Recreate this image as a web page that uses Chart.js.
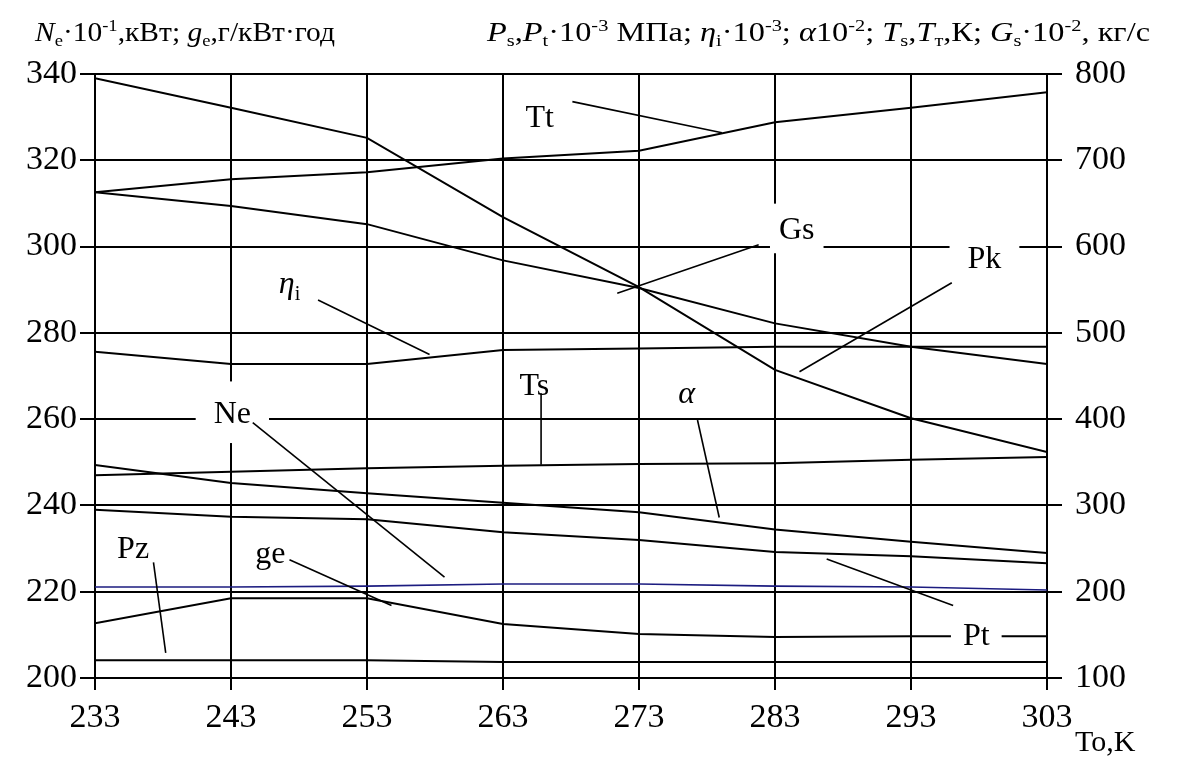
<!DOCTYPE html>
<html>
<head>
<meta charset="utf-8">
<script src="https://cdn.jsdelivr.net/npm/chart.js@4.4.0/dist/chart.umd.min.js"></script>
<style>
  html, body { margin: 0; padding: 0; background: #fff; }
  #wrap { width: 1187px; height: 763px; position: relative; }
</style>
</head>
<body>
<div id="wrap"><canvas id="chart"></canvas></div>
<script>
// To, K
const To = [233, 243, 253, 263, 273, 283, 293, 303];

// left axis (Ne*10^-1 kW, ge g/kWh)
const Ne = [221.1, 221.1, 221.3, 221.8, 221.8, 221.3, 221.1, 220.4];
const ge = [212.7, 218.5, 218.5, 212.5, 210.2, 209.5, 209.7, 209.7];

// right axis
const Tt = [663, 678, 686, 702, 711, 744, 761, 779];
const Pk = [795, 761, 726, 634, 553, 457, 401, 362];
const Gs = [663, 647, 626, 584, 552, 511, 484, 464];
const etaI = [478, 464, 464, 480, 482, 484, 484, 484];
const Ts = [335, 339, 343, 346, 348, 349, 353, 356];
const alpha = [347, 326, 314, 303, 292, 272, 258, 245];
const Pt = [295, 287, 284, 269, 260, 246, 241, 233];
const Pz = [120.5, 120.5, 120.5, 118.5, 118.5, 118.5, 118.5, 118.5];

const xTicks = [233, 243, 253, 263, 273, 283, 293, 303];
const leftTicks = [200, 220, 240, 260, 280, 300, 320, 340];
const rightTicks = [100, 200, 300, 400, 500, 600, 700, 800];

const serif = "'Liberation Serif', 'Times New Roman', serif";

// rich text helpers
const R = t => ({ t });
const I = t => ({ t, it: true });
const S = t => ({ t, pos: 'sub' });
const U = t => ({ t, pos: 'sup' });

function runFont(r, size) {
    const fs = r.pos ? Math.round(size * 0.62) : size;
    return (r.it ? 'italic ' : '') + fs + 'px ' + serif;
}

function richWidth(ctx, runs, size) {
    let w = 0;
    runs.forEach(r => { ctx.font = runFont(r, size); w += ctx.measureText(r.t).width; });
    return w;
}

function drawRich(ctx, runs, x, y, size) {
    let cx = x;
    runs.forEach(r => {
        ctx.font = runFont(r, size);
        const dy = r.pos === 'sub' ? size * 0.2 : r.pos === 'sup' ? -size * 0.38 : 0;
        ctx.fillText(r.t, cx, y + dy);
        cx += ctx.measureText(r.t).width;
    });
}

const leftTitle = [I('N'), S('e'), R('·10'), U('-1'), R(',кВт; '), I('g'), S('e'), R(',г/кВт·год')];
const rightTitle = [I('P'), S('s'), R(','), I('P'), S('t'), R('·10'), U('-3'), R(' МПа; '), I('η'), S('i'),
    R('·10'), U('-3'), R('; '), I('α'), R('10'), U('-2'), R('; '), I('T'), S('s'), R(','), I('T'), S('т'),
    R(',К; '), I('G'), S('s'), R('·10'), U('-2'), R(', кг/с')];

// curve labels, placed in To / right-axis units
const notes = [
    { text: [R('Tt')], at: [265.7, 751], lead: [[268.1, 768], [279.1, 732]] },
    { text: [R('Gs')], at: [284.6, 621], lead: [[281.8, 602], [271.4, 546]], pad: [9, 12] },
    { text: [R('Pk')], at: [298.4, 587], lead: [[296.0, 558], [284.8, 455]], pad: [18, 5] },
    { text: [I('η'), S('i')], at: [247.3, 558], lead: [[249.4, 538], [257.6, 475]] },
    { text: [R('Ts')], at: [265.3, 440], lead: [[265.8, 430], [265.8, 347]] },
    { text: [I('α')], at: [276.5, 431], lead: [[277.3, 399], [278.9, 286]] },
    { text: [R('Ne')], at: [243.1, 408], lead: [[244.6, 396], [258.7, 217]], pad: [18, 18] },
    { text: [R('Pz')], at: [235.8, 251], lead: [[237.3, 234], [238.2, 129]] },
    { text: [R('ge')], at: [245.9, 246], lead: [[247.3, 237], [254.8, 184]] },
    { text: [R('Pt')], at: [297.8, 150], lead: [[286.8, 238], [296.1, 184]], pad: [12, 4] }
];

const decor = {
    id: 'decor',
    afterDatasetsDraw(chart) {
        const ctx = chart.ctx;
        const xs = chart.scales.x, ys = chart.scales.y2;
        const size = 32;
        ctx.save();
        ctx.textBaseline = 'alphabetic';
        ctx.fillStyle = '#000';

        const boxes = notes.map(n => {
            const w = richWidth(ctx, n.text, size);
            const cx = xs.getPixelForValue(n.at[0]);
            const cy = ys.getPixelForValue(n.at[1]);
            return { n, w, cx, cy };
        });
        // white backgrounds
        boxes.forEach(b => {
            const p = b.n.pad || [2, 2];
            ctx.fillStyle = '#fff';
            ctx.fillRect(b.cx - b.w / 2 - p[0], b.cy - size * 0.4 - p[1], b.w + 2 * p[0], size * 0.8 + 2 * p[1]);
        });
        // leader lines
        ctx.strokeStyle = '#000';
        ctx.lineWidth = 1.6;
        boxes.forEach(b => {
            const l = b.n.lead;
            ctx.beginPath();
            ctx.moveTo(xs.getPixelForValue(l[0][0]), ys.getPixelForValue(l[0][1]));
            ctx.lineTo(xs.getPixelForValue(l[1][0]), ys.getPixelForValue(l[1][1]));
            ctx.stroke();
        });
        // texts
        ctx.fillStyle = '#000';
        boxes.forEach(b => drawRich(ctx, b.n.text, b.cx - b.w / 2, b.cy + size * 0.33, size));

        // axis titles on top, fitted to their spans
        const fit = (runs, x0, x1, base, fs) => {
            const w = richWidth(ctx, runs, fs);
            ctx.save();
            ctx.translate(x0, base);
            ctx.scale((x1 - x0) / w, 1);
            drawRich(ctx, runs, 0, 0, fs);
            ctx.restore();
        };
        fit(leftTitle, 35, 335, 41, 27);
        fit(rightTitle, 487, 1150, 41, 27);

        ctx.font = '30px ' + serif;
        ctx.fillText('To,K', 1075, 751);
        ctx.restore();
    }
};

const lines = [
    ['Ne', Ne, 'y', '#1c1c80', 1.6],
    ['ge', ge, 'y'],
    ['Tt', Tt, 'y2'],
    ['Pk', Pk, 'y2'],
    ['Gs', Gs, 'y2'],
    ['ηi', etaI, 'y2'],
    ['Ts', Ts, 'y2'],
    ['α', alpha, 'y2'],
    ['Pt', Pt, 'y2'],
    ['Pz', Pz, 'y2']
];

document.addEventListener('DOMContentLoaded', () => {
    const ctx = document.getElementById('chart').getContext('2d');

    new Chart(ctx, {
        type: 'line',
        data: {
            datasets: lines.map(([label, arr, axis, color, w]) => ({
                label,
                data: To.map((t, i) => ({ x: t, y: arr[i] })),
                yAxisID: axis,
                borderColor: color || '#000',
                borderWidth: w || 2,
                pointRadius: 0,
                tension: 0,
                fill: false
            }))
        },
        options: {
            responsive: true,
            maintainAspectRatio: false,
            animation: false,
            layout: { padding: { top: 74, left: 0, right: 0, bottom: 0 } },
            plugins: {
                legend: { display: false },
                tooltip: { enabled: false }
            },
            scales: {
                x: {
                    type: 'linear',
                    min: 233,
                    max: 303,
                    afterBuildTicks: s => { s.ticks = xTicks.map(v => ({ value: v })); },
                    afterFit: s => { s.height = 85; },
                    grid: { color: '#000', lineWidth: 2, tickLength: 12 },
                    border: { color: '#000', width: 2 },
                    ticks: { color: '#000', padding: 8, maxRotation: 0, font: { family: serif, size: 34 } }
                },
                y: {
                    position: 'left',
                    min: 200,
                    max: 340,
                    afterBuildTicks: s => { s.ticks = leftTicks.map(v => ({ value: v })); },
                    afterFit: s => { s.width = 95; },
                    grid: { color: '#000', lineWidth: 2, tickLength: 15 },
                    border: { color: '#000', width: 2 },
                    ticks: { color: '#000', padding: 3, font: { family: serif, size: 34 } }
                },
                y2: {
                    position: 'right',
                    min: 100,
                    max: 800,
                    afterBuildTicks: s => { s.ticks = rightTicks.map(v => ({ value: v })); },
                    afterFit: s => { s.width = 140; },
                    grid: { color: '#000', lineWidth: 2, tickLength: 15, drawOnChartArea: false },
                    border: { color: '#000', width: 2 },
                    ticks: { color: '#000', padding: 13, font: { family: serif, size: 34 } }
                }
            }
        },
        plugins: [decor]
    });
});
</script>
</body>
</html>
